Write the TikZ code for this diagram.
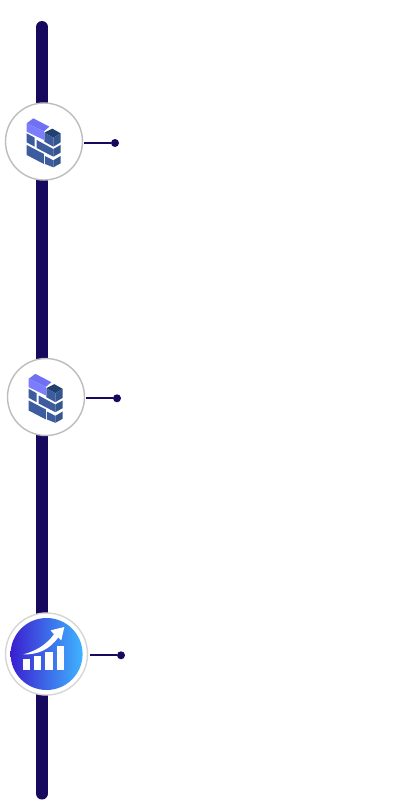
\documentclass[tikz,border=0pt]{standalone}
\definecolor{barc}{HTML}{17095E}
\definecolor{ringc}{HTML}{BDBDBD}
\definecolor{ringd}{HTML}{D6D6D6}
\definecolor{lilac}{HTML}{7070F5}
\definecolor{lilacd}{HTML}{7C7CFF}
\definecolor{brick}{HTML}{3D5C9E}
\definecolor{brickd}{HTML}{35558F}
\definecolor{brickt}{HTML}{22406F}
\definecolor{gradl}{HTML}{3A1FD0}
\definecolor{gradr}{HTML}{3FB4FF}
\tikzset{
  ring/.style={circle,draw=ringc,line width=1.4pt,fill=white,inner sep=0pt,minimum size=#1},
  dotend/.style={circle,fill=barc,inner sep=0pt,minimum size=8pt},
  conn/.style={draw=barc,line width=1.8pt},
  spine/.style={draw=barc,line width=12pt,line cap=round},
  whitebar/.style={fill=white,draw=none}
}
\newcommand{\brickwall}[2]{%
  \begin{scope}[shift={(#1,#2)},x=0.3333pt,y=-0.3333pt]
    \fill[lilac] (80,100)--(100,85)--(148,110)--(132,124)--cycle;
    \fill[lilacd] (80,100)--(132,124)--(132,150)--(80,125)--cycle;
    \fill[brickt] (133,128)--(157,116)--(182,130)--(160,143)--cycle;
    \fill[brick] (133,128)--(160,143)--(160,170)--(133,155)--cycle;
    \fill[brickd] (160,143)--(182,130)--(182,157)--(160,170)--cycle;
    \fill[brick] (80,130)--(104,143)--(104,170)--(80,157)--cycle;
    \fill[brick] (110,150)--(160,177)--(160,200)--(110,174)--cycle;
    \fill[brickd] (160,177)--(182,165)--(182,188)--(160,200)--cycle;
    \fill[brick] (80,165)--(132,192)--(132,222)--(80,195)--cycle;
    \fill[brick] (135,198)--(160,211)--(160,232)--(135,222)--cycle;
    \fill[brickd] (160,211)--(182,198)--(182,220)--(160,232)--cycle;
  \end{scope}}
\begin{document}
\begin{tikzpicture}[x=1pt,y=-1pt]
  \useasboundingbox[fill=white] (0,0) rectangle (400,800);
  \coordinate (top) at (42,27);
  \coordinate (bot) at (42,793.5);
  \draw[spine] (top) -- (bot);

  \node[ring=77pt] (c1) at (44,141.5) {};
  \node[dotend] (d1) at (115,143) {};
  \draw[conn] (c1.east |- d1) ++(1,0) -- (d1);
  \brickwall{0}{90}

  \node[ring=77pt] (c2) at (46,397) {};
  \node[dotend] (d2) at (117,398.3) {};
  \draw[conn] (c2.east |- d2) ++(1,0) -- (d2);
  \brickwall{2}{345.5}

  \node[circle,draw=ringd,line width=1.4pt,fill=white,inner sep=0pt,minimum size=82pt] (c3) at (46.5,654) {};
  \node[circle,left color=gradl,right color=gradr,inner sep=0pt,minimum size=72pt,draw=none] (g3) at (46.6,654) {};
  \node[dotend] (d3) at (121,655.3) {};
  \draw[conn] (c3.east |- d3) ++(2,0) -- (d3);
  \begin{scope}[shift={(0,605)},x=0.3333pt,y=-0.3333pt]
    \fill[whitebar] (68,162) rectangle (90,194);
    \fill[whitebar] (102,154) rectangle (124,194);
    \fill[whitebar] (136,142) rectangle (159,194);
    \fill[whitebar] (171,122) rectangle (192,194);
    \fill[whitebar] (70,148) .. controls (108,138) and (138,120) .. (162,88)
      -- (152,76) -- (193,66) -- (184,106) -- (175,97)
      .. controls (150,132) and (115,150) .. (70,148) -- cycle;
  \end{scope}
\end{tikzpicture}
\end{document}
